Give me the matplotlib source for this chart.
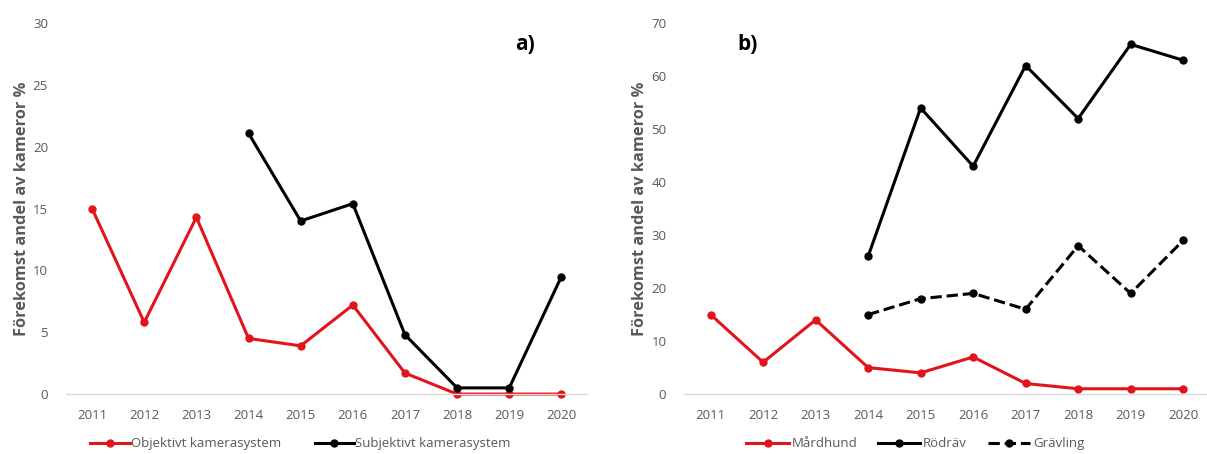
import matplotlib.pyplot as plt
import numpy as np

years = ['2011', '2012', '2013', '2014', '2015', '2016', '2017', '2018', '2019', '2020']

# panel a) - camera system comparison (Mårdhund)
objektivt = [15, 5.8, 14.3, 4.5, 3.9, 7.2, 1.7, 0, 0, 0]
subjektivt = [np.nan, np.nan, np.nan, 21.1, 14, 15.4, 4.8, 0.5, 0.5, 9.5]

# panel b) - species
mardhund = [15, 6, 14, 5, 4, 7, 2, 1, 1, 1]
rodrav = [np.nan, np.nan, np.nan, 26, 54, 43, 62, 52, 66, 63]
gravling = [np.nan, np.nan, np.nan, 15, 18, 19, 16, 28, 19, 29]

plt.rcParams['font.family'] = ['Open Sans', 'DejaVu Sans']

RED = '#e2141b'
GRAY = '#595959'
ylabel = 'Förekomst andel av kameror %'

fig = plt.figure(figsize=(12.07, 4.54), dpi=100)
ax1 = fig.add_axes([0.0547, 0.132, 0.432, 0.817])
ax2 = fig.add_axes([0.567, 0.132, 0.435, 0.817])

x = np.arange(len(years))


def style(ax, ymax, step):
    ax.set_xlim(-0.5, len(years) - 0.5)
    ax.set_ylim(0, ymax)
    ax.set_yticks(np.arange(0, ymax + 1, step))
    ax.set_xticks(x)
    ax.set_xticklabels(years)
    for s in ['top', 'right', 'left']:
        ax.spines[s].set_visible(False)
    ax.spines['bottom'].set_color('#d9d9d9')
    ax.spines['bottom'].set_linewidth(1)
    ax.tick_params(length=0, labelsize=9.5, colors=GRAY, pad=11)
    ax.tick_params(axis='y', pad=13)
    ax.set_ylabel(ylabel, fontsize=11.8, fontweight='bold', color=GRAY)
    ax.yaxis.set_label_coords(-0.07, 0.5)
    ax.patch.set_alpha(0)


kw = dict(lw=2.2, marker='o', ms=5, clip_on=False)
ax1.plot(x, objektivt, color=RED, label='Objektivt kamerasystem', **kw)
ax1.plot(x, subjektivt, color='black', label='Subjektivt kamerasystem', **kw)
style(ax1, 30, 5)
ax1.text(0.88, 0.97, 'a)', transform=ax1.transAxes, fontsize=15, fontweight='bold', ha='center', va='top')
ax1.legend(loc='upper center', bbox_to_anchor=(0.45, -0.085), ncol=2, frameon=False,
           fontsize=9.5, labelcolor=GRAY, handlelength=3, columnspacing=2.5, handletextpad=0.1)

ax2.plot(x, mardhund, color=RED, label='Mårdhund', **kw)
ax2.plot(x, rodrav, color='black', label='Rödräv', **kw)
ax2.plot(x, gravling, color='black', ls='--', label='Grävling', **kw)
style(ax2, 70, 10)
ax2.text(0.12, 0.97, 'b)', transform=ax2.transAxes, fontsize=15, fontweight='bold', ha='center', va='top')
ax2.legend(loc='upper center', bbox_to_anchor=(0.44, -0.085), ncol=3, frameon=False,
           fontsize=9.5, labelcolor=GRAY, handlelength=3.2, columnspacing=1.6, handletextpad=0.2)

fig.savefig('out.png', dpi=100)
